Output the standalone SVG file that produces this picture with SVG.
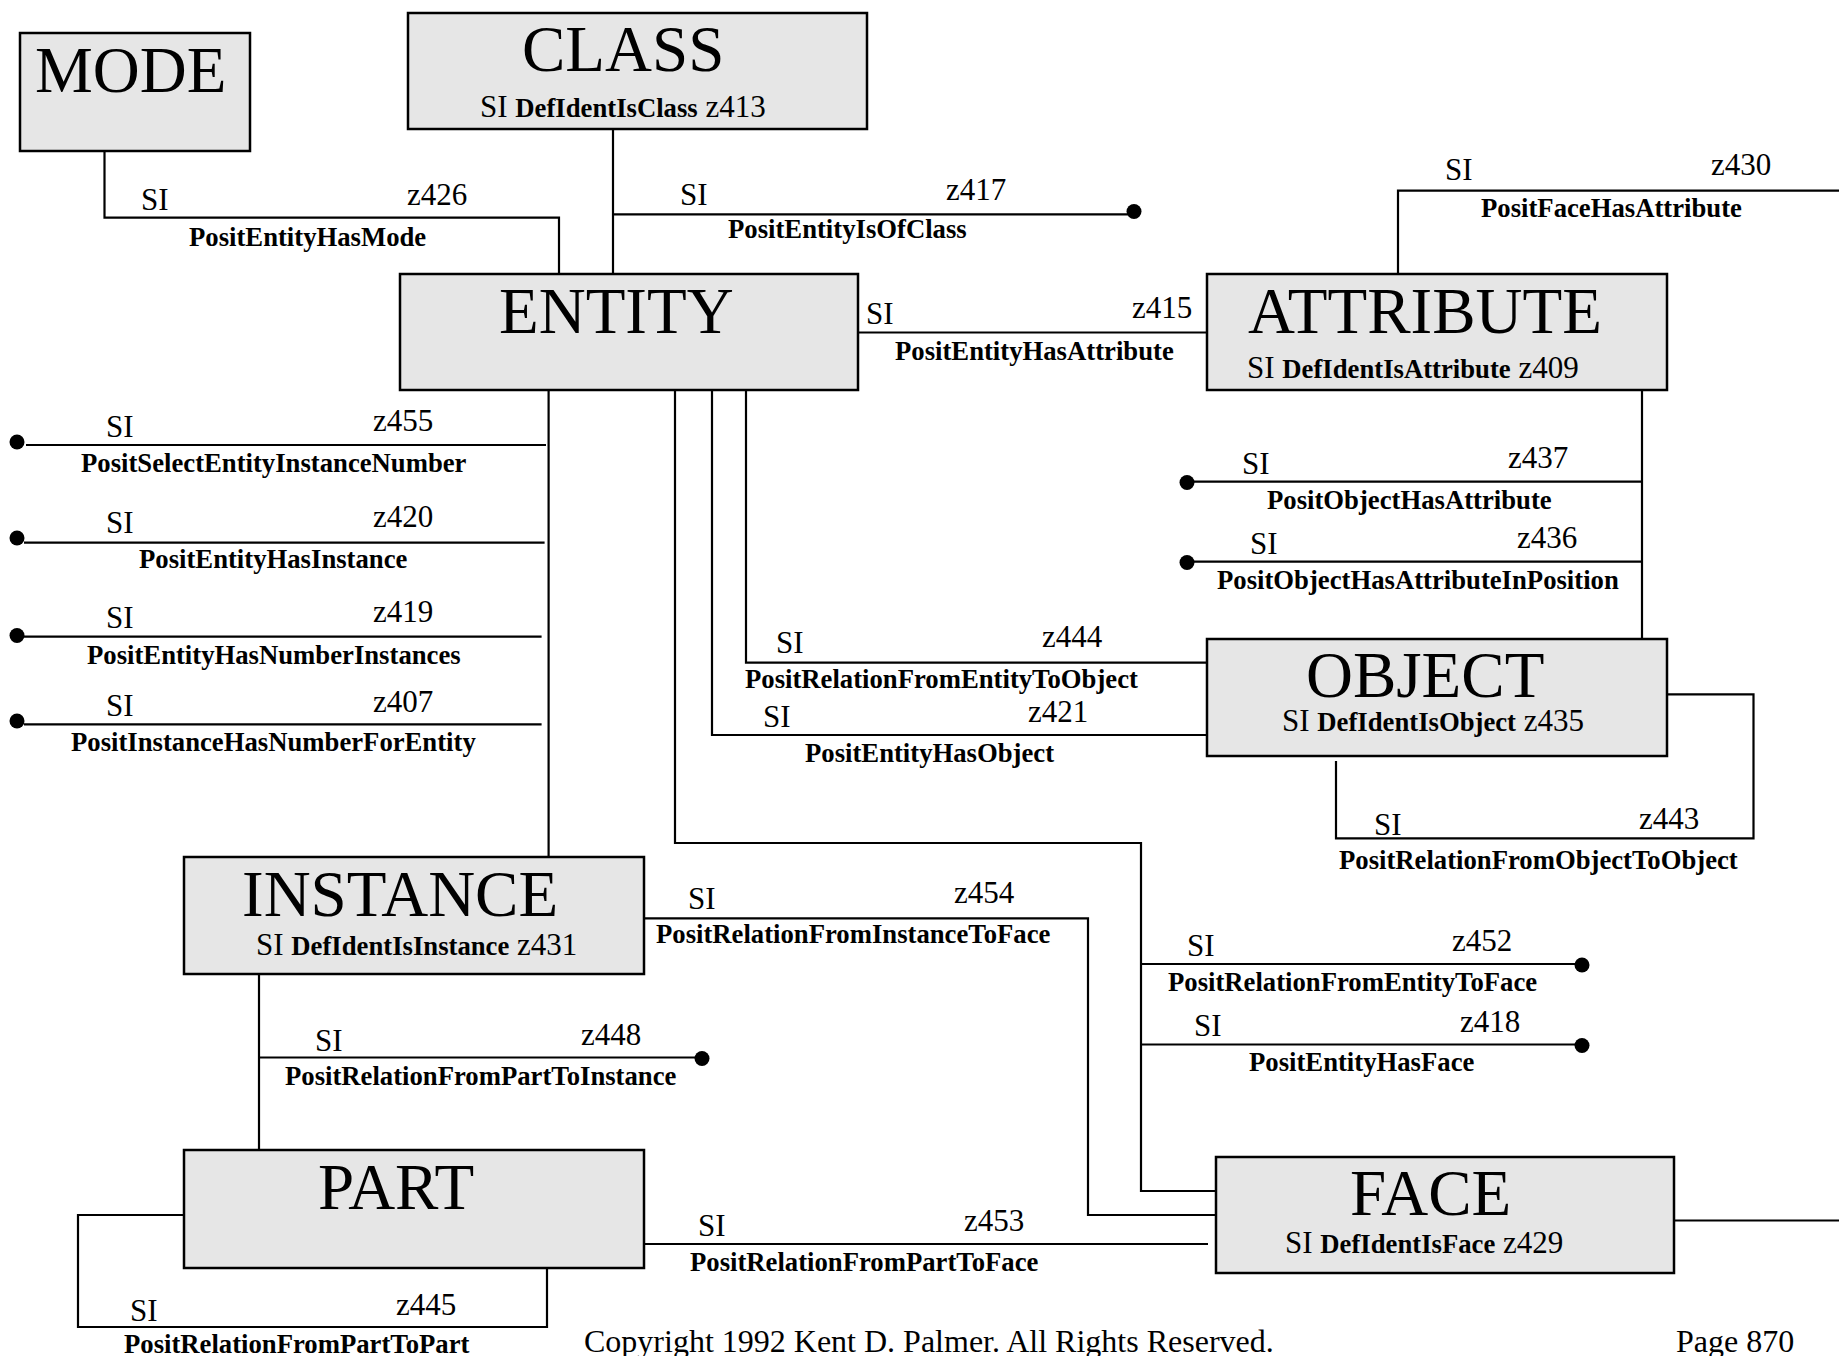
<svg xmlns="http://www.w3.org/2000/svg" width="1839" height="1356" viewBox="0 0 1839 1356">
<style>
.box{fill:#e6e6e6;stroke:#000;stroke-width:2.5}
.ln{fill:none;stroke:#000;stroke-width:2.2}
.dot{fill:#000}
.t{font-family:"Liberation Serif","Times New Roman",serif;fill:#000}
.title{font-size:65px}
.r{font-size:31px}
.b{font-size:26.7px;font-weight:bold}
.foot{font-size:32px}
</style>
<rect width="1839" height="1356" fill="#fff"/>
<g id="connectors">
<!-- PositEntityHasMode -->
<path class="ln" d="M104.5,151 V217.7 H559 V273"/>
<!-- CLASS - ENTITY / PositEntityIsOfClass -->
<path class="ln" d="M613,129 V274"/>
<path class="ln" d="M613,214.3 H1128"/>
<circle class="dot" cx="1134" cy="211.5" r="7.5"/>
<!-- PositEntityHasAttribute -->
<path class="ln" d="M858,332.5 H1207"/>
<!-- PositFaceHasAttribute -->
<path class="ln" d="M1398,274 V190.7 H1839"/>
<!-- ENTITY - INSTANCE trunk -->
<path class="ln" d="M548.6,390 V857"/>
<path class="ln" d="M26,445 H546"/>
<circle class="dot" cx="17" cy="442" r="7.5"/>
<path class="ln" d="M24,542.7 H544.6"/>
<circle class="dot" cx="17" cy="538" r="7.5"/>
<path class="ln" d="M24,636.7 H541.6"/>
<circle class="dot" cx="17" cy="635.5" r="7.5"/>
<path class="ln" d="M24,724.3 H541.6"/>
<circle class="dot" cx="17" cy="721" r="7.5"/>
<!-- PositRelationFromEntityToObject -->
<path class="ln" d="M746,390 V662.7 H1206"/>
<!-- PositEntityHasObject -->
<path class="ln" d="M712,390 V735 H1207"/>
<!-- ATTRIBUTE - OBJECT -->
<path class="ln" d="M1642,390 V641"/>
<path class="ln" d="M1192,481.7 H1642"/>
<circle class="dot" cx="1187" cy="482.5" r="7.5"/>
<path class="ln" d="M1192,561.7 H1642"/>
<circle class="dot" cx="1187" cy="562.5" r="7.5"/>
<!-- PositRelationFromObjectToObject -->
<path class="ln" d="M1667,694.3 H1753.5 V838.3 H1336 V761"/>
<!-- PositRelationFromEntityToFace trunk -->
<path class="ln" d="M675,390 V843 H1141 V1191 H1218"/>
<path class="ln" d="M1141,964 H1578"/>
<circle class="dot" cx="1582" cy="965" r="7.5"/>
<path class="ln" d="M1141,1044.5 H1578"/>
<circle class="dot" cx="1582" cy="1045.5" r="7.5"/>
<!-- PositRelationFromInstanceToFace -->
<path class="ln" d="M644,918.3 H1088 V1215 H1218"/>
<!-- INSTANCE - PART -->
<path class="ln" d="M259,974 V1150"/>
<path class="ln" d="M259,1057.5 H698"/>
<circle class="dot" cx="702" cy="1058.5" r="7.5"/>
<!-- PositRelationFromPartToFace -->
<path class="ln" d="M640,1244 H1208"/>
<!-- PositRelationFromPartToPart -->
<path class="ln" d="M184,1215 H78 V1327 H547 V1266"/>
<!-- FACE right -->
<path class="ln" d="M1674,1220.5 H1839"/>
</g>
<g id="connector-labels" class="t">
<text class="r" x="141" y="210">SI</text><text class="r" x="407" y="205">z426</text><text class="b" x="189" y="246">PositEntityHasMode</text>
<text class="r" x="680" y="205">SI</text><text class="r" x="946" y="200">z417</text><text class="b" x="728" y="238">PositEntityIsOfClass</text>
<text class="r" x="866" y="324">SI</text><text class="r" x="1132" y="318">z415</text><text class="b" x="895" y="360">PositEntityHasAttribute</text>
<text class="r" x="1445" y="180">SI</text><text class="r" x="1711" y="175">z430</text><text class="b" x="1481" y="217">PositFaceHasAttribute</text>
<text class="r" x="106" y="437">SI</text><text class="r" x="373" y="431">z455</text><text class="b" x="81" y="472">PositSelectEntityInstanceNumber</text>
<text class="r" x="106" y="533">SI</text><text class="r" x="373" y="527">z420</text><text class="b" x="139" y="568">PositEntityHasInstance</text>
<text class="r" x="106" y="628">SI</text><text class="r" x="373" y="622">z419</text><text class="b" x="87" y="664">PositEntityHasNumberInstances</text>
<text class="r" x="106" y="716">SI</text><text class="r" x="373" y="712">z407</text><text class="b" x="71" y="751">PositInstanceHasNumberForEntity</text>
<text class="r" x="776" y="653">SI</text><text class="r" x="1042" y="647">z444</text><text class="b" x="745" y="688">PositRelationFromEntityToObject</text>
<text class="r" x="763" y="727">SI</text><text class="r" x="1028" y="722">z421</text><text class="b" x="805" y="762">PositEntityHasObject</text>
<text class="r" x="1242" y="474">SI</text><text class="r" x="1508" y="468">z437</text><text class="b" x="1267" y="509">PositObjectHasAttribute</text>
<text class="r" x="1250" y="554">SI</text><text class="r" x="1517" y="548">z436</text><text class="b" x="1217" y="589">PositObjectHasAttributeInPosition</text>
<text class="r" x="1374" y="835">SI</text><text class="r" x="1639" y="829">z443</text><text class="b" x="1339" y="869">PositRelationFromObjectToObject</text>
<text class="r" x="1187" y="956">SI</text><text class="r" x="1452" y="951">z452</text><text class="b" x="1168" y="991">PositRelationFromEntityToFace</text>
<text class="r" x="1194" y="1036">SI</text><text class="r" x="1460" y="1032">z418</text><text class="b" x="1249" y="1071">PositEntityHasFace</text>
<text class="r" x="688" y="909">SI</text><text class="r" x="954" y="903">z454</text><text class="b" x="656" y="943">PositRelationFromInstanceToFace</text>
<text class="r" x="315" y="1051">SI</text><text class="r" x="581" y="1045">z448</text><text class="b" x="285" y="1085">PositRelationFromPartToInstance</text>
<text class="r" x="698" y="1236">SI</text><text class="r" x="964" y="1231">z453</text><text class="b" x="690" y="1271">PositRelationFromPartToFace</text>
<text class="r" x="130" y="1321">SI</text><text class="r" x="396" y="1315">z445</text><text class="b" x="124" y="1353">PositRelationFromPartToPart</text>
</g>
<g id="node-mode">
<rect class="box" x="20" y="33" width="230" height="118"/>
<text class="t title" x="35" y="92">MODE</text>
</g>
<g id="node-class">
<rect class="box" x="408" y="13" width="459" height="116"/>
<text class="t title" x="522" y="71">CLASS</text>
<text class="t r" x="480" y="117">SI <tspan class="b">DefIdentIsClass</tspan> z413</text>
</g>
<g id="node-entity">
<rect class="box" x="400" y="274" width="458" height="116"/>
<text class="t title" x="499" y="333">ENTITY</text>
</g>
<g id="node-attribute">
<rect class="box" x="1207" y="274" width="460" height="116"/>
<text class="t title" x="1248" y="333">ATTRIBUTE</text>
<text class="t r" x="1247" y="378">SI <tspan class="b">DefIdentIsAttribute</tspan> z409</text>
</g>
<g id="node-object">
<rect class="box" x="1207" y="639" width="460" height="117"/>
<text class="t title" x="1306" y="697">OBJECT</text>
<text class="t r" x="1282" y="731">SI <tspan class="b">DefIdentIsObject</tspan> z435</text>
</g>
<g id="node-instance">
<rect class="box" x="184" y="857" width="460" height="117"/>
<text class="t title" x="242" y="916">INSTANCE</text>
<text class="t r" x="256" y="955">SI <tspan class="b">DefIdentIsInstance</tspan> z431</text>
</g>
<g id="node-part">
<rect class="box" x="184" y="1150" width="460" height="118"/>
<text class="t title" x="318" y="1209">PART</text>
</g>
<g id="node-face">
<rect class="box" x="1216" y="1157" width="458" height="116"/>
<text class="t title" x="1350" y="1215">FACE</text>
<text class="t r" x="1285" y="1253">SI <tspan class="b">DefIdentIsFace</tspan> z429</text>
</g>
<g id="footer" class="t foot">
<text x="584" y="1352">Copyright 1992 Kent D. Palmer. All Rights Reserved.</text>
<text x="1676" y="1352">Page 870</text>
</g>
</svg>
